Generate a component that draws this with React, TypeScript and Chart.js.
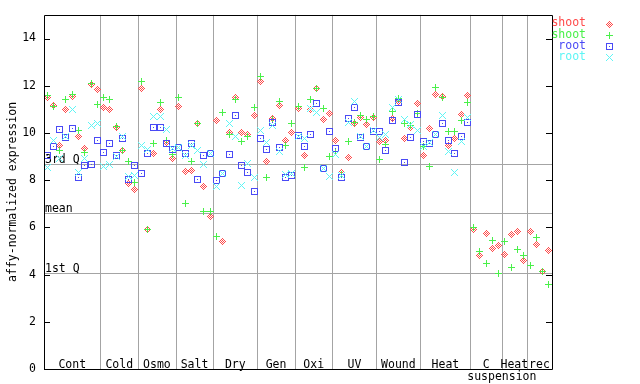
import { useEffect, useRef } from 'react';
import { Chart, registerables } from 'chart.js';

Chart.register(...registerables);

// ---------- data ----------
const groupLabels = ['Cont', 'Cold', 'Osmo', 'Salt', 'Dry', 'Gen', 'Oxi', 'UV', 'Wound', 'Heat', 'C', 'Heat', 'rec'];
const groupSizes = [9, 6, 6, 6, 7, 6, 6, 7, 7, 8, 5, 4, 4];
const subLabel = 'suspension';
const yTickValues = [0, 2, 4, 6, 8, 10, 12, 14];
const quartileLabels = ['3rd Q', 'mean', '1st Q'];
const quartileValues = [8.67, 6.61, 4.08];
const seriesNames = ['shoot', 'shoot', 'root', 'root'];
const seriesColors = ['#ff4a4a', '#4af04a', '#4a4af5', '#5ef5f5'];

const shootRep1 = [
  11.51, 11.15, 9.45, 11.0, 11.56, 9.87, 9.35, 12.05, 11.85,
  11.09, 11.0, 10.22, 9.27, 7.86, 7.62,
  11.88, 5.93, 9.14, 11.0, 9.6, 8.91,
  11.13, 8.35, 8.39, 10.39, 7.75, 6.45,
  10.53, 5.39, 10.02, 11.51, 10.02, 9.95, 10.74,
  12.16, 8.77, 10.61, 11.16, 9.66, 10.02,
  11.04, 9.05, 11.0, 11.88, 10.57, 10.83,
  9.66, 8.32, 8.97, 10.4, 10.64, 10.36, 10.64,
  9.62, 9.66, 10.61, 11.35, 9.77, 10.25, 11.25,
  9.05, 10.19, 11.63, 11.56, 9.48, 9.77, 10.78, 11.58,
  5.92, 4.79, 5.76, 5.09, 5.22,
  4.85, 5.68, 5.82, 4.58,
  5.81, 5.26, 4.12, 5.01,
];
const shootRep2 = [
  11.57, 11.1, 9.27, 11.43, 11.63, 10.11, 9.19, 12.09, 11.2,
  11.51, 11.42, 10.28, 9.25, 8.77, 7.9,
  12.19, 5.93, 9.56, 11.29, 9.66, 9.07,
  11.51, 6.99, 8.81, 10.39, 6.69, 6.69,
  5.61, 10.85, 9.94, 11.43, 9.62, 9.86, 11.09,
  12.4, 8.13, 10.55, 11.35, 9.48, 10.4,
  11.12, 8.53, 11.42, 11.88, 11.04, 9.01,
  9.2, 8.25, 9.64, 10.43, 10.74, 10.57, 10.68,
  8.89, 9.52, 10.89, 11.46, 10.4, 10.3, 10.81,
  9.43, 8.56, 11.92, 11.49, 10.07, 10.07, 10.53, 11.29,
  5.98, 4.98, 4.47, 5.43, 4.05,
  5.39, 4.29, 5.05, 4.79,
  4.37, 5.55, 4.12, 3.57,
];
const rootRep1 = [
  9.03, 9.41, 10.15, 9.8, 10.19, 8.1, 8.63, 8.67, 9.69,
  9.19, 9.54, 9.05, 9.76, 8.04, 8.63,
  8.3, 9.14, 10.23, 10.23, 9.56, 9.31,
  9.38, 9.14, 9.56, 8.01, 9.05, 9.14,
  7.97, 8.27, 9.1, 10.74, 8.63, 8.34, 7.54,
  9.77, 9.31, 10.45, 9.39, 8.13, 8.21,
  9.91, 9.43, 9.95, 11.25, 8.49, 10.07,
  9.35, 8.11, 10.61, 11.09, 9.8, 9.41, 10.04,
  10.07, 9.27, 10.53, 11.29, 8.76, 9.81, 10.78,
  9.64, 9.57, 9.92, 10.4, 9.69, 9.14, 9.86, 10.45,
  null, null, null, null, null,
  null, null, null, null,
  null, null, null, null,
];
const rootRep2 = [
  8.53, 9.66, 8.91, 9.85, 11.0, 8.31, 8.93, 10.31, 10.39,
  8.59, 8.67, 9.0, 9.84, 8.14, 8.21,
  9.45, 9.3, 10.68, 10.71, 10.15, 9.35,
  9.38, 9.06, 9.45, 9.27, 8.67, 9.14,
  7.75, 8.27, 10.4, 9.86, 7.79, 8.72, 8.11,
  10.11, 9.59, 10.32, 9.21, 8.25, 8.3,
  9.85, 9.77, 11.05, 10.85, 8.5, 8.17,
  9.1, 8.2, 10.46, 11.32, 9.85, 9.42, 10.12,
  9.8, 9.94, 11.06, 11.4, 10.57, 10.35, 10.11,
  9.43, 9.6, 9.92, 10.74, 9.22, 8.34, 9.64, 10.66,
  null, null, null, null, null,
  null, null, null, null,
  null, null, null, null,
];

const FONT_FAMILY = '"DejaVu Sans Mono", "Liberation Mono", monospace';
const FONT_SIZE = 11.5;
const FONT = `${FONT_SIZE}px ${FONT_FAMILY}`;

// ---------- marker glyphs ----------
function makeMarker(kind: string, color: string): HTMLCanvasElement {
  const c = document.createElement('canvas');
  c.width = 7;
  c.height = 7;
  const g = c.getContext('2d')!;
  g.fillStyle = color;
  for (let dy = -3; dy <= 3; dy++) {
    for (let dx = -3; dx <= 3; dx++) {
      const ax = Math.abs(dx), ay = Math.abs(dy);
      let on = false;
      if (kind === 'diamond') on = (ax + ay === 3 || ax + ay === 1);
      else if (kind === 'plus') on = dx === 0 || dy === 0;
      else if (kind === 'square') on = ax === 3 || ay === 3 || (dx === 0 && dy === 0);
      else if (kind === 'x') on = ax === ay;
      if (on) g.fillRect(dx + 3, dy + 3, 1, 1);
    }
  }
  return c;
}

function toPoints(arr: (number | null)[]) {
  const pts: { x: number; y: number }[] = [];
  arr.forEach((v, i) => {
    if (v !== null) pts.push({ x: i + 0.5, y: v });
  });
  return pts;
}

export default function App() {
  const ref = useRef<HTMLCanvasElement | null>(null);

  useEffect(() => {
    if (!ref.current) return;
    const kinds = ['diamond', 'plus', 'square', 'x'];
    const markers = kinds.map((k, i) => makeMarker(k, seriesColors[i]));
    const series = [shootRep1, shootRep2, rootRep1, rootRep2];
    const total = groupSizes.reduce((a, b) => a + b, 0);

    const overlay = {
      id: 'overlay',
      beforeDatasetsDraw(chart: any) {
        const { ctx, chartArea: a, scales } = chart;
        const x = scales.x, y = scales.y;
        ctx.save();
        ctx.strokeStyle = '#a4a4a4';
        ctx.lineWidth = 1;
        ctx.beginPath();
        let acc = 0;
        for (let i = 0; i < groupSizes.length - 1; i++) {
          acc += groupSizes[i];
          const px = Math.round(x.getPixelForValue(acc)) + 0.5;
          ctx.moveTo(px, a.top);
          ctx.lineTo(px, a.bottom);
        }
        quartileValues.forEach((q) => {
          const py = Math.round(y.getPixelForValue(q)) + 0.5;
          ctx.moveTo(a.left, py);
          ctx.lineTo(a.right, py);
        });
        ctx.stroke();
        ctx.fillStyle = '#000';
        ctx.font = FONT;
        ctx.textAlign = 'left';
        ctx.textBaseline = 'alphabetic';
        quartileValues.forEach((q, i) => {
          const py = Math.round(y.getPixelForValue(q));
          ctx.fillText(quartileLabels[i], a.left + 1, py - 1);
        });
        ctx.restore();
        ctx.imageSmoothingEnabled = false;
      },
      afterDatasetsDraw(chart: any) {
        chart.ctx.imageSmoothingEnabled = true;
      },
      afterDraw(chart: any) {
        const { ctx, chartArea: a, scales } = chart;
        const x = scales.x, y = scales.y;
        ctx.save();
        ctx.strokeStyle = '#000';
        ctx.lineWidth = 1;
        ctx.beginPath();
        ctx.rect(Math.round(a.left) + 0.5, Math.round(a.top) + 0.5, Math.round(a.right - a.left), Math.round(a.bottom - a.top));
        yTickValues.forEach((v) => {
          const py = Math.round(y.getPixelForValue(v)) + 0.5;
          ctx.moveTo(a.left, py);
          ctx.lineTo(a.left + 6, py);
          ctx.moveTo(a.right - 6, py);
          ctx.lineTo(a.right, py);
        });
        ctx.stroke();

        // category labels
        ctx.fillStyle = '#000';
        ctx.font = FONT;
        ctx.textAlign = 'center';
        ctx.textBaseline = 'alphabetic';
        let acc = 0;
        groupSizes.forEach((n, i) => {
          const cx = (x.getPixelForValue(acc) + x.getPixelForValue(acc + n)) / 2;
          ctx.fillText(groupLabels[i], cx, a.bottom - 1.5);
          acc += n;
        });
        const cStart = groupSizes.slice(0, 11).reduce((p, q) => p + q, 0);
        ctx.fillText(subLabel, x.getPixelForValue(cStart), a.bottom + 11);

        // legend
        ctx.textAlign = 'right';
        ctx.textBaseline = 'middle';
        seriesNames.forEach((name, i) => {
          const ly = 23.5 + i * 11.1;
          ctx.fillStyle = seriesColors[i];
          ctx.fillText(name, 586, ly);
          ctx.imageSmoothingEnabled = false;
          ctx.drawImage(markers[i], 606, Math.round(ly) - 3);
        });
        ctx.restore();
      },
    };

    const chart = new Chart(ref.current, {
      type: 'scatter',
      data: {
        datasets: series.map((s, i) => ({
          label: seriesNames[i],
          data: toPoints(s),
          pointStyle: markers[i] as any,
          pointRadius: 3,
          borderColor: seriesColors[i],
          backgroundColor: seriesColors[i],
          showLine: false,
          order: 3 - i,
        })),
      },
      options: {
        animation: false,
        responsive: false,
        maintainAspectRatio: false,
        layout: { padding: { left: 0, right: 88, top: 13, bottom: 15 } },
        plugins: { legend: { display: false }, tooltip: { enabled: false } },
        scales: {
          x: { type: 'linear', min: 0, max: total, display: false },
          y: {
            type: 'linear',
            min: 0,
            max: 15,
            grid: { display: false, drawTicks: false },
            border: { display: false },
            afterBuildTicks: (scale: any) => {
              scale.ticks = yTickValues.map((v) => ({ value: v }));
            },
            afterFit: (scale: any) => {
              scale.width = 44;
            },
            ticks: {
              color: '#000',
              font: { family: FONT_FAMILY, size: FONT_SIZE },
              padding: 8,
            },
            title: {
              display: true,
              text: 'affy-normalized expression',
              color: '#000',
              font: { family: FONT_FAMILY, size: FONT_SIZE },
              padding: { top: 6, bottom: 0 },
            },
          },
        },
      },
      plugins: [overlay],
    });
    return () => chart.destroy();
  }, []);

  return (
    <div style={{ position: 'fixed', left: 0, top: 0, width: 640, height: 384, background: '#fff' }}>
      <canvas ref={ref} width={640} height={384} style={{ display: 'block', width: 640, height: 384 }} />
    </div>
  );
}
